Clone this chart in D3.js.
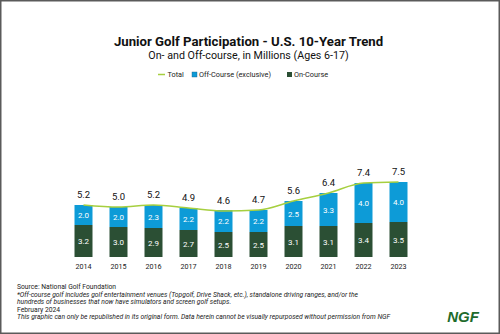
<!DOCTYPE html>
<html><head><meta charset="utf-8">
<script src="https://cdn.jsdelivr.net/npm/d3@7"></script>
<style>body{margin:0;background:#fff}svg{display:block}</style>
</head><body>
<script>
const years = ["2014","2015","2016","2017","2018","2019","2020","2021","2022","2023"];
const onCourse = [3.2,3.0,2.9,2.7,2.5,2.5,3.1,3.1,3.4,3.5];
const offCourse = [2.0,2.0,2.3,2.2,2.2,2.2,2.5,3.3,4.0,4.0];
const totals = [5.2,5.0,5.2,4.9,4.6,4.7,5.6,6.4,7.4,7.5];
const legendLabels = ["Total","Off-Course (exclusive)","On-Course"];
const footerLines = [
 ["Source: National Golf Foundation", false],
 ["*Off-course golf includes golf entertainment venues (Topgolf, Drive Shack, etc.), standalone driving ranges, and/or the", true],
 ["hundreds of businesses that now have simulators and screen golf setups.", true],
 ["February 2024", false],
 ["This graphic can only be republished in its original form. Data herein cannot be visually repurposed without permission from NGF", true]
];
const W=500,H=334;
const C={on:"#2b4f34",off:"#0d9bd7",line:"#a6cf3f"};
const FONT="Roboto, 'Liberation Sans', sans-serif";
const svg=d3.select("body").append("svg").attr("width",W).attr("height",H).style("font-family",FONT);
svg.append("rect").attr("x",0.5).attr("y",0.5).attr("width",W-1).attr("height",H-1).attr("fill","#fff").attr("stroke","#5a5a5a").attr("stroke-width",2);

svg.append("text").attr("x",248.5).attr("y",46).attr("text-anchor","middle").attr("font-weight",700).attr("font-size",13.2).attr("fill","#111").text("Junior Golf Participation - U.S. 10-Year Trend");
svg.append("text").attr("x",248.5).attr("y",58.5).attr("text-anchor","middle").attr("font-size",10.7).attr("fill","#111").text("On- and Off-course, in Millions (Ages 6-17)");

// legend
const lg=svg.append("g").attr("font-size",7.3).attr("fill","#222");
lg.append("line").attr("x1",158).attr("x2",165).attr("y1",74.5).attr("y2",74.5).attr("stroke",C.line).attr("stroke-width",1.5);
lg.append("text").attr("x",167.5).attr("y",77).text(legendLabels[0]);
lg.append("rect").attr("x",192).attr("y",72).attr("width",5).attr("height",5).attr("fill",C.off).attr("stroke","#1a5f86").attr("stroke-width",0.4);
lg.append("text").attr("x",199).attr("y",77).text(legendLabels[1]);
lg.append("rect").attr("x",287).attr("y",72).attr("width",5).attr("height",5).attr("fill",C.on);
lg.append("text").attr("x",294).attr("y",77).text(legendLabels[2]);

const x=d3.scaleBand().domain(years).range([66,416]).paddingInner(0.486).paddingOuter(0.243);
const y=d3.scaleLinear().domain([0,7.5]).range([257,182]);
const bw=x.bandwidth();
const g=svg.append("g");
years.forEach((yr,i)=>{
  const x0=x(yr);
  g.append("rect").attr("x",x0).attr("y",y(onCourse[i])).attr("width",bw).attr("height",y(0)-y(onCourse[i])).attr("fill",C.on);
  g.append("rect").attr("x",x0).attr("y",y(onCourse[i]+offCourse[i])).attr("width",bw).attr("height",y(0)-y(offCourse[i])).attr("fill",C.off);
  g.append("text").attr("x",x0+bw/2).attr("y",(y(0)+y(onCourse[i]))/2+3).attr("text-anchor","middle").attr("font-size",8).attr("fill","#fff").text(onCourse[i].toFixed(1));
  g.append("text").attr("x",x0+bw/2).attr("y",(y(onCourse[i])+y(onCourse[i]+offCourse[i]))/2+3).attr("text-anchor","middle").attr("font-size",8).attr("fill","#fff").text(offCourse[i].toFixed(1));
  g.append("text").attr("x",x0+bw/2).attr("y",y(totals[i])-7).attr("text-anchor","middle").attr("font-size",9.5).attr("fill","#111").text(totals[i].toFixed(1));
});
const xa=svg.append("g").attr("transform","translate(0,257)").call(d3.axisBottom(x).tickSize(0).tickPadding(7));
xa.select(".domain").remove();
xa.selectAll("text").attr("font-size",7.2).attr("font-family",FONT).attr("fill","#222");

const line=d3.line().x((d,i)=>x(years[i])+bw/2).y(d=>y(d)).curve(d3.curveMonotoneX);
svg.append("path").datum(totals).attr("d",line).attr("fill","none").attr("stroke",C.line).attr("stroke-width",1.5);

const ft=svg.append("g").attr("font-size",6.75).attr("fill","#222");
const fy=[289,296.5,304,311.5,319];
footerLines.forEach((l,i)=>{
  ft.append("text").attr("x",17).attr("y",fy[i]).attr("font-style",l[1]?"italic":"normal").text(l[0]);
});
svg.append("text").attr("x",463).attr("y",322).attr("text-anchor","middle").attr("font-weight",900).attr("font-style","italic").attr("font-size",15).attr("fill","#1e6b2c").attr("font-family","'Liberation Sans', Arial, sans-serif").text("NGF");
</script>
</body></html>
